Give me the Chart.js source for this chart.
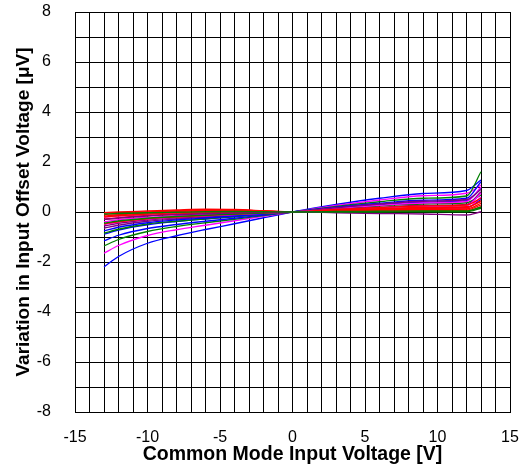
<!DOCTYPE html>
<html>
<head>
<meta charset="utf-8">
<script src="https://cdn.jsdelivr.net/npm/chart.js@4"></script>
<style>
html,body{margin:0;padding:0;background:#fff;}
#wrap{width:523px;height:476px;position:relative;}
</style>
</head>
<body>
<div id="wrap"><canvas id="c" width="523" height="476"></canvas></div>
<script>
// Common mode input voltage points [V]
const xValues = [-13, -12, -10, -8, -6, -4, -2, 0, 3, 6, 9, 12, 13];
const xTickLabels = [-15, -10, -5, 0, 5, 10, 15];
const yTickLabels = [-8, -6, -4, -2, 0, 2, 4, 6, 8];
const xTitle = 'Common Mode Input Voltage [V]';
const yTitle = 'Variation in Input Offset Voltage [\u03bcV]';

// Variation in input offset voltage [uV], one array per sample
const s01 = [-2.2, -1.78, -1.25, -0.95, -0.7, -0.47, -0.23, 0, 0.3, 0.55, 0.74, 0.86, 1.28];
const s02 = [-1.65, -1.34, -0.94, -0.71, -0.53, -0.35, -0.17, 0, 0.26, 0.48, 0.65, 0.75, 1.08];
const s03 = [-1.36, -1.1, -0.78, -0.58, -0.43, -0.29, -0.14, 0, 0.22, 0.41, 0.55, 0.64, 1.61];
const s04 = [-1.15, -0.93, -0.66, -0.5, -0.37, -0.25, -0.12, 0, 0.19, 0.35, 0.47, 0.55, 1.21];
const s05 = [-0.89, -0.72, -0.51, -0.38, -0.28, -0.19, -0.09, 0, 0.16, 0.29, 0.39, 0.45, 0.95];
const s06 = [-0.85, -0.69, -0.48, -0.37, -0.27, -0.18, -0.09, 0, 0.13, 0.24, 0.32, 0.37, 0.68];
const s07 = [-0.65, -0.53, -0.37, -0.28, -0.21, -0.14, -0.07, 0, 0.17, 0.32, 0.43, 0.5, 0.9];
const s08 = [-0.56, -0.45, -0.32, -0.24, -0.18, -0.12, -0.06, 0, 0.1, 0.19, 0.26, 0.3, 0.81];
const s09 = [-0.48, -0.39, -0.27, -0.2, -0.14, -0.09, -0.04, 0, 0.1, 0.18, 0.24, 0.28, 0.55];
const s10 = [-0.39, -0.31, -0.21, -0.15, -0.1, -0.06, -0.03, 0, 0.15, 0.27, 0.36, 0.42, 1.0];
const s11 = [-0.29, -0.23, -0.14, -0.08, -0.04, -0.01, 0, 0, 0.07, 0.13, 0.18, 0.21, 0.41];
const s12 = [-0.21, -0.16, -0.09, -0.04, -0.01, 0.01, 0.01, 0, 0.05, 0.1, 0.13, 0.15, 0.6];
const s13 = [-0.16, -0.11, -0.04, 0.02, 0.06, 0.07, 0.04, 0, 0.03, 0.05, 0.07, 0.08, 0.28];
const s14 = [-0.08, -0.06, -0.03, -0.01, 0.01, 0.02, 0.01, 0, 0.0, 0.0, 0.01, 0.01, 0.15];
const s15 = [-0.03, 0.0, 0.04, 0.08, 0.11, 0.1, 0.05, 0, 0.04, 0.08, 0.1, 0.12, 0.35];
const s16 = [-0.3, -0.24, -0.16, -0.11, -0.07, -0.04, -0.02, 0, -0.03, -0.06, -0.08, -0.12, 0.01];
const s17 = [-0.75, -0.61, -0.43, -0.32, -0.24, -0.16, -0.08, 0, 0.06, 0.11, 0.15, 0.18, 0.5];
const s18 = [-0.1, -0.06, 0.0, 0.05, 0.08, 0.08, 0.04, 0, 0.02, 0.03, 0.04, 0.05, 0.2];
const s19 = [-0.5, -0.4, -0.28, -0.2, -0.15, -0.1, -0.05, 0, 0.09, 0.16, 0.22, 0.25, 0.75];
const s20 = [-0.45, -0.36, -0.25, -0.18, -0.13, -0.08, -0.04, 0, 0.02, 0.03, 0.04, 0.04, 0.2];
const s21 = [-0.2, -0.15, -0.08, -0.03, 0.02, 0.04, 0.03, 0, 0.06, 0.11, 0.15, 0.17, 0.45];

const seriesList = [s14, s16, s20, s11, s13, s21, s18, s15, s09, s12, s19, s17, s08, s07, s10, s06, s05, s04, s03, s02, s01];
const seriesColors = ['#008000', '#800080', '#008000', '#ff0000', '#ff0000', '#ff0000', '#ff0000', '#ff0000', '#ff0000', '#ff00ff', '#ff00ff', '#0000ff', '#800080', '#800080', '#ff00ff', '#008000', '#0000ff', '#0000ff', '#008000', '#ff00ff', '#0000ff'];

const datasets = seriesList.map((vals, i) => ({
  data: xValues.map((x, j) => ({x: x, y: vals[j]})),
  borderColor: seriesColors[i],
  borderWidth: 1.3,
  pointRadius: 0,
  fill: false,
  cubicInterpolationMode: 'monotone'
}));

const FONT = '"Liberation Sans", Arial, sans-serif';

function noPad(s) {
  s.paddingTop = 0; s.paddingBottom = 0; s.paddingLeft = 0; s.paddingRight = 0;
}

new Chart(document.getElementById('c'), {
  type: 'line',
  data: { datasets: datasets },
  options: {
    responsive: false,
    animation: false,
    layout: { padding: { left: 0, right: 13, top: 12, bottom: 0 } },
    plugins: { legend: { display: false }, tooltip: { enabled: false } },
    scales: {
      x: {
        type: 'linear', min: -15, max: 15,
        afterFit: s => { s.height = 64; noPad(s); },
        ticks: {
          stepSize: 1, autoSkip: false, maxRotation: 0, padding: 16,
          color: '#000', font: { family: FONT, size: 16 },
          callback: v => xTickLabels.includes(v) ? String(v) : ''
        },
        grid: { color: '#000', lineWidth: 1, drawTicks: false },
        border: { color: '#000', width: 1 },
        title: { display: true, text: xTitle, color: '#000', font: { family: FONT, size: 19.5, weight: 'bold' }, padding: { top: 0, bottom: 10 } }
      },
      y: {
        type: 'linear', min: -8, max: 8,
        afterFit: s => { s.width = 75; noPad(s); },
        ticks: {
          stepSize: 1, autoSkip: false, padding: 24,
          color: '#000', font: { family: FONT, size: 16 },
          callback: v => yTickLabels.includes(v) ? String(v) : ''
        },
        grid: { color: '#000', lineWidth: 1, drawTicks: false },
        border: { color: '#000', width: 1 },
        title: { display: true, text: yTitle, color: '#000', font: { family: FONT, size: 19, weight: 'bold' }, padding: { top: 12, bottom: 0 } }
      }
    }
  }
});
</script>
</body>
</html>
